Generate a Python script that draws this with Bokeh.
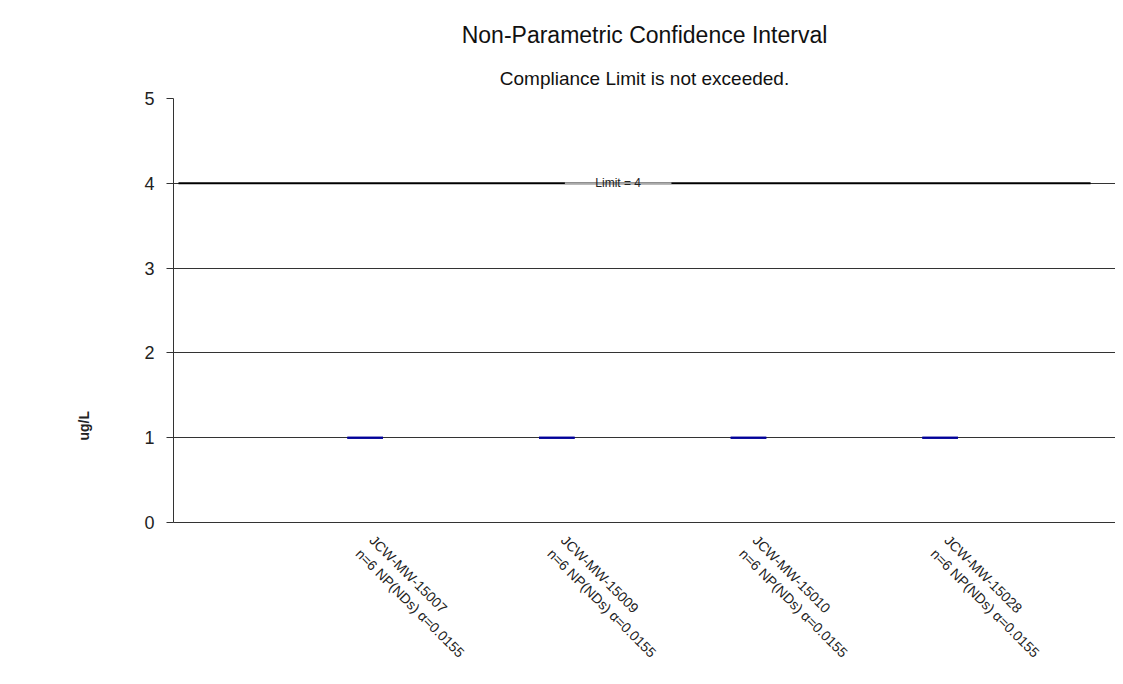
import math
from bokeh.plotting import figure
from bokeh.models import Range1d, FixedTicker, Label, Title
from bokeh.embed import file_html
from bokeh.resources import INLINE

# ---- data ----
wells = ["JCW-MW-15007", "JCW-MW-15009", "JCW-MW-15010", "JCW-MW-15028"]
notes = ["n=6 NP(NDs) \u03b1=0.0155"] * 4
upper = [1.0, 1.0, 1.0, 1.0]
lower = [1.0, 1.0, 1.0, 1.0]
limit = 4
y_ticks = [0, 1, 2, 3, 4, 5]
title = "Non-Parametric Confidence Interval"
subtitle = "Compliance Limit is not exceeded."
y_label = "ug/L"

FONT = "Liberation Sans"
pos = list(range(1, len(wells) + 1))

p = figure(width=1115, height=676, output_backend="svg", toolbar_location=None,
           x_range=Range1d(0, 4.915), y_range=Range1d(0, 5),
           min_border_left=173, min_border_right=0, min_border_top=98, min_border_bottom=139)
p.outline_line_color = None
p.background_fill_color = "white"

# y axis
p.yaxis.ticker = FixedTicker(ticks=y_ticks)
p.yaxis.major_label_text_font = FONT
p.yaxis.major_label_text_font_size = "18px"
p.yaxis.major_label_text_color = "#222222"
p.yaxis.major_tick_out = 7
p.yaxis.major_tick_in = 0
p.yaxis.minor_tick_line_color = None
p.yaxis.axis_line_color = "#333333"
p.yaxis.major_tick_line_color = "#333333"
p.yaxis.major_label_standoff = 12

# x axis with category labels
p.xaxis.ticker = FixedTicker(ticks=pos)
p.xaxis.major_label_overrides = {x: f"{w}\n{n}" for x, w, n in zip(pos, wells, notes)}
p.xaxis.major_label_orientation = -math.pi / 4
p.xaxis.major_label_text_font = FONT
p.xaxis.major_label_text_font_size = "14px"
p.xaxis.major_label_text_color = "#222222"
p.xaxis.major_label_standoff = 22
p.xaxis.major_tick_out = 0
p.xaxis.major_tick_in = 0
p.xaxis.minor_tick_line_color = None
p.xaxis.axis_line_color = "#333333"
p.xaxis.major_tick_line_color = None

p.xgrid.grid_line_color = None
p.ygrid.ticker = FixedTicker(ticks=y_ticks)
p.ygrid.grid_line_color = "#333333"
p.ygrid.grid_line_width = 1

# limit line
p.segment(x0=[0.026], x1=[4.785], y0=[limit], y1=[limit], line_color="black", line_width=2)
lim_x = 2.32
half = 0.278
p.segment(x0=[lim_x - half], x1=[lim_x + half], y0=[limit], y1=[limit], line_color="#aaaaaa", line_width=2)
p.add_layout(Label(x=lim_x, y=limit, text=f"Limit = {limit}", text_align="center", text_baseline="middle",
                   text_font=FONT, text_font_size="12px", text_color="#222222"))

# confidence intervals (upper and lower bounds)
w = 0.093
p.segment(x0=[x - w for x in pos], x1=[x + w for x in pos], y0=upper, y1=upper,
          line_color="#000099", line_width=2)
p.segment(x0=[x - w for x in pos], x1=[x + w for x in pos], y0=lower, y1=lower,
          line_color="#000099", line_width=2)

# titles
p.add_layout(Title(text=subtitle, align="center", text_font=FONT, text_font_size="19px",
                   text_font_style="normal", text_color="#111111", standoff=20), "above")
p.add_layout(Title(text=title, align="center", text_font=FONT, text_font_size="23px",
                   text_font_style="normal", text_color="#111111", standoff=16), "above")
p.add_layout(Title(text=y_label, align="left", offset=82, text_font=FONT, text_font_size="14px",
                   text_font_style="bold", text_color="#222222", standoff=100), "left")

open("out.html", "w").write(file_html(p, INLINE))
